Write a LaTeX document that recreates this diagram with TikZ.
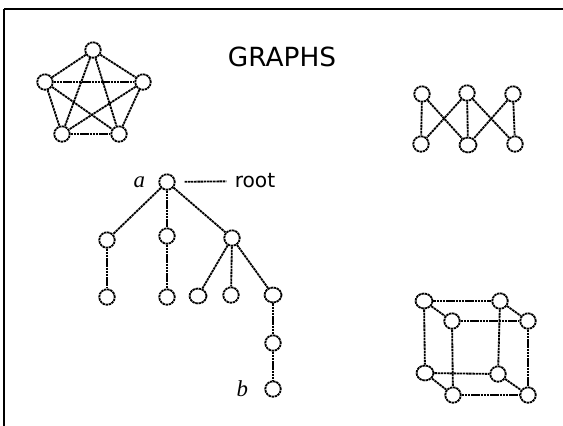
\documentclass[tikz,border=0pt]{standalone}
\usepackage{fontspec}
\newfontfamily\labelfont{DejaVu Sans}
\newfontfamily\letterfont{Liberation Serif}
\usetikzlibrary{shapes,positioning}

\begin{document}
\begin{tikzpicture}
				[
					x=0.02cm, y=-0.02cm,
					vertex/.style={circle, draw=black, fill=white, line width=1.05pt, dash pattern=on 1.4pt off 0.4pt, minimum size=3.1mm, inner sep=0pt},
					wide/.style={vertex, ellipse, minimum width=3.4mm, minimum height=3.0mm},
					edge/.style={draw=black, line width=1.05pt, dash pattern=on 1.4pt off 0.4pt},
					caption/.style={inner sep=0pt, font=\labelfont\fontsize{11.5}{13}\selectfont},
					letter/.style={inner sep=0pt, font=\letterfont\itshape\fontsize{13}{15}\selectfont},
				]
				\useasboundingbox (0,0) rectangle (563,425);

				% frame, cut by the page on the right and at the bottom
				\coordinate (corner) at (4,9);
				\draw[line width=1.1pt] (corner) -- (570,9);
				\draw[line width=1.1pt] (corner) -- (4,430);

				\node [inner sep=0pt, font=\labelfont\fontsize{15}{17}\selectfont] (title) at (282,57) {GRAPHS};

				% complete graph on five vertices
				\node [vertex] (k1) at (93,50) {};
				\node [vertex] (k2) at (45,82) {};
				\node [vertex] (k3) at (143,82) {};
				\node [vertex] (k4) at (62,134) {};
				\node [vertex] (k5) at (119,134) {};
				\draw[edge] (k1) -- (k2);
				\draw[edge] (k1) -- (k3);
				\draw[edge] (k1) -- (k4);
				\draw[edge] (k1) -- (k5);
				\draw[edge] (k2) -- (k3);
				\draw[edge] (k2) -- (k4);
				\draw[edge] (k2) -- (k5);
				\draw[edge] (k3) -- (k4);
				\draw[edge] (k3) -- (k5);
				\draw[edge] (k4) -- (k5);

				% bipartite graph
				\node [vertex] (top1) at (422,94) {};
				\node [vertex] (top2) at (467,93) {};
				\node [vertex] (top3) at (513,94) {};
				\node [vertex] (bot1) at (421,144) {};
				\node [wide] (bot2) at (468,145) {};
				\node [vertex] (bot3) at (515,144) {};
				\draw[edge] (top1) -- (bot1);
				\draw[edge] (top1) -- (bot2);
				\draw[edge] (top2) -- (bot1);
				\draw[edge] (top2) -- (bot2);
				\draw[edge] (top2) -- (bot3);
				\draw[edge] (top3) -- (bot2);
				\draw[edge] (top3) -- (bot3);

				% tree from a down to b
				\node [vertex] (root) at (167,182) {};
				\node [letter] (atext) [left=2.6mm of root] {a};
				\node [caption] (roottext) at (255,181) {root};
				\draw[edge, shorten <=1.8mm, shorten >=1.6mm] (root) -- (roottext);

				\node [vertex] (left) at (107,240) {};
				\node [vertex] (mid) at (167,236) {};
				\node [vertex] (right) at (232,238) {};
				\node [vertex] (leaf1) at (107,297) {};
				\node [vertex] (leaf2) at (167,297) {};
				\node [wide] (leaf3) at (198,296) {};
				\node [vertex] (leaf4) at (231,295) {};
				\node [wide] (branch) at (273,295) {};
				\node [vertex] (inner) at (273,343) {};
				\node [vertex] (bottom) at (273,389) {};
				\node [letter] (btext) [left=3.2mm of bottom] {b};

				\draw[edge] (root) -- (left);
				\draw[edge] (root) -- (mid);
				\draw[edge] (root) -- (right);
				\draw[edge] (left) -- (leaf1);
				\draw[edge] (mid) -- (leaf2);
				\draw[edge] (right) -- (leaf3);
				\draw[edge] (right) -- (leaf4);
				\draw[edge] (right) -- (branch);
				\draw[edge] (branch) -- (inner);
				\draw[edge] (inner) -- (bottom);

				% cube
				\node [wide] (backtl) at (424,301) {};
				\node [vertex] (backtr) at (500,301) {};
				\node [wide] (backbl) at (425,373) {};
				\node [vertex] (backbr) at (498,374) {};
				\node [vertex] (fronttl) at (452,321) {};
				\node [vertex] (fronttr) at (528,321) {};
				\node [vertex] (frontbl) at (453,395) {};
				\node [vertex] (frontbr) at (528,395) {};
				\draw[edge] (backtl) -- (backtr);
				\draw[edge] (backtl) -- (backbl);
				\draw[edge] (backtr) -- (backbr);
				\draw[edge] (backbl) -- (backbr);
				\draw[edge] (fronttl) -- (fronttr);
				\draw[edge] (fronttl) -- (frontbl);
				\draw[edge] (fronttr) -- (frontbr);
				\draw[edge] (frontbl) -- (frontbr);
				\draw[edge] (backtl) -- (fronttl);
				\draw[edge] (backtr) -- (fronttr);
				\draw[edge] (backbl) -- (frontbl);
				\draw[edge] (backbr) -- (frontbr);

			\end{tikzpicture}
\end{document}
